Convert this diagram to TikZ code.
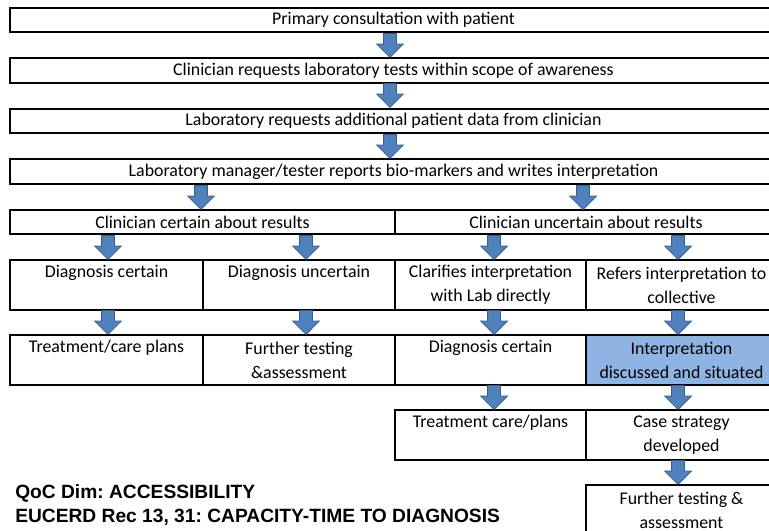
\documentclass[tikz,border=0pt]{standalone}
\usepackage{fontspec}
\setmainfont{Carlito}
\newfontfamily\headfont{Liberation Sans}
\usepackage{tikz}
\usetikzlibrary{shapes.arrows}

\definecolor{arrowblue}{HTML}{4F81BD}
\definecolor{arrowedge}{HTML}{385D8A}
\definecolor{cellblue}{HTML}{8EB4E3}

\begin{document}
\frenchspacing
\begin{tikzpicture}[
        x=0.75pt, y=-0.75pt,
        cell/.style={draw, line width=1.5pt, anchor=north west, inner sep=0pt,
            minimum width=#1*0.75pt, align=center,
            font=\fontsize{13.4}{18}\selectfont},
        ht/.style={minimum height=#1*0.75pt},
        toptext/.style={text height=13.5pt, text depth=24pt},
        blk/.style={single arrow, shape border rotate=270, anchor=tip,
            draw=arrowedge, fill=arrowblue, line width=0.6pt, inner sep=4.5pt,
            minimum height=18pt, minimum width=0pt,
            single arrow head extend=5.25pt},
        note/.style={anchor=west, align=left, inner sep=0pt,
            font=\headfont\bfseries\fontsize{14.4}{18}\selectfont},
    ]

    \clip (0,0) rectangle (769,531);

    % =============================================
    % FLUJO COMUN
    % =============================================
    \node[cell=767, ht=24] (consult) at (9,7)   {Primary consultation with patient};
    \node[cell=767, ht=25] (request) at (9,57)  {Clinician requests laboratory tests within scope of awareness};
    \node[cell=767, ht=24] (labdata) at (9,108) {Laboratory requests additional patient data from clinician};
    \node[cell=767, ht=25] (report)  at (9,158) {Laboratory manager/tester reports bio-markers and writes interpretation};

    \node[cell=385, ht=24] (certain)   at (9,209)   {Clinician certain about results};
    \node[cell=382, ht=24] (uncertain) at (394,209) {Clinician uncertain about results};

    % =============================================
    % RAMAS
    % =============================================
    \node[cell=193, ht=50, toptext] (dxcert)  at (9,259)   {Diagnosis certain};
    \node[cell=192, ht=50, toptext] (dxunc)   at (202,259) {Diagnosis uncertain};
    \node[cell=191, ht=50]          (clarify) at (394,259) {Clarifies interpretation\\with Lab directly};
    \node[cell=191, ht=50]          (refer)   at (585,259) {Refers interpretation to\\collective};

    \node[cell=193, ht=50, toptext]        (treat)   at (9,334)   {Treatment/care plans};
    \node[cell=192, ht=50]                 (further) at (202,334) {Further testing\\\&assessment};
    \node[cell=191, ht=50, toptext]        (dxcert2) at (394,334) {Diagnosis certain};
    \node[cell=191, ht=50, fill=cellblue]  (interp)  at (585,334) {Interpretation\\discussed and situated};

    \node[cell=191, ht=50, toptext] (treat2)   at (394,409) {Treatment care/plans};
    \node[cell=191, ht=50]          (strategy) at (585,409) {Case strategy\\developed};

    \node[cell=191, ht=50] (further2) at (585,484) {Further testing \&\\assessment};

    % Flechas
    \node[blk] (a1) at (390,58)  {};
    \node[blk] (a2) at (390,108) {};
    \node[blk] (a3) at (390,159) {};

    \node[blk] (a4l) at (201,210) {};
    \node[blk] (a4r) at (583,210) {};

    \node[blk] (a5a) at (108,260) {};
    \node[blk] (a5b) at (306,260) {};
    \node[blk] (a5c) at (494,260) {};
    \node[blk] (a5d) at (678,260) {};

    \node[blk] (a6a) at (108,335) {};
    \node[blk] (a6b) at (306,335) {};
    \node[blk] (a6c) at (494,335) {};
    \node[blk] (a6d) at (678,335) {};

    \node[blk] (a7c) at (494,410) {};
    \node[blk] (a7d) at (678,410) {};

    \node[blk] (a8d) at (678,485) {};

    % Nota
    \node[note] (qoc) at (15,505)
        {QoC Dim: ACCESSIBILITY\\EUCERD Rec 13, 31: CAPACITY-TIME TO DIAGNOSIS};

\end{tikzpicture}
\end{document}
